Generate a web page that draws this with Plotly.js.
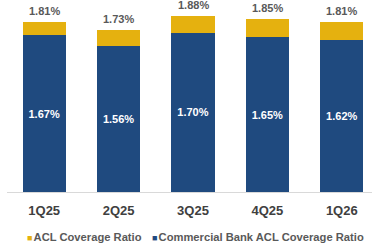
<!DOCTYPE html>
<html><head><meta charset="utf-8">
<script src="https://cdn.plot.ly/plotly-3.0.1.min.js"></script>
<style>html,body{margin:0;padding:0;background:#fff;}#chart{width:372px;height:247px;}</style>
</head><body><div id="chart"></div>
<script>
var quarters = ['1Q25','2Q25','3Q25','4Q25','1Q26'];
var aclTotal = [1.81, 1.73, 1.88, 1.85, 1.81];
var commercialAcl = [1.67, 1.56, 1.70, 1.65, 1.62];
var seriesNames = ['ACL Coverage Ratio', 'Commercial Bank ACL Coverage Ratio'];
var colors = ['#E5B10F', '#1F4A7F'];

var aclExtra = aclTotal.map(function(t,i){ return +(t - commercialAcl[i]).toFixed(2); });
var fnt = 'Liberation Sans, Arial, sans-serif';

var traces = [
  {type:'bar', x:quarters, y:commercialAcl, name:seriesNames[1], marker:{color:colors[1]},
   text:commercialAcl.map(function(v){return v.toFixed(2)+'%';}), textposition:'inside',
   insidetextanchor:'middle', textangle:0,
   textfont:{family:fnt, size:11, color:'#ffffff', weight:'bold'}, hoverinfo:'skip', showlegend:false},
  {type:'bar', x:quarters, y:aclExtra, name:seriesNames[0], marker:{color:colors[0]},
   textposition:'none', hoverinfo:'skip', showlegend:false}
];

var annotations = aclTotal.map(function(t,i){
  return {x:quarters[i], y:t, xref:'x', yref:'y', text:'<b>'+t.toFixed(2)+'%</b>', showarrow:false,
    yanchor:'bottom', yshift:3, font:{family:fnt, size:11, color:'#595959'}};
});
function legendText(i){
  return '<span style="color:'+colors[i]+';font-size:9px">■</span><span style="font-size:4px"> </span><b>'+seriesNames[i]+'</b>';
}
annotations.push({xref:'paper', yref:'paper', x:0.05, y:-0.235, xanchor:'left', yanchor:'middle', showarrow:false,
  text:legendText(0), font:{family:fnt, size:11.2, color:'#595959'}});
annotations.push({xref:'paper', yref:'paper', x:0.392, y:-0.235, xanchor:'left', yanchor:'middle', showarrow:false,
  text:legendText(1), font:{family:fnt, size:11.2, color:'#595959'}});

var layout = {
  width:372, height:247,
  margin:{l:7, r:0, t:0, b:55},
  paper_bgcolor:'#ffffff', plot_bgcolor:'#ffffff',
  barmode:'stack', bargap:0.42,
  showlegend:false,
  xaxis:{type:'category', range:[-0.5, 4.406], showline:true, linecolor:'#D9D9D9', linewidth:1,
    ticks:'', showgrid:false, zeroline:false, ticklabelstandoff:6,
    tickfont:{family:fnt, size:13, color:'#404040', weight:'bold'}},
  yaxis:{range:[0, 2.048], visible:false, showgrid:false, zeroline:false},
  annotations:annotations,
  font:{family:fnt}
};
Plotly.newPlot('chart', traces, layout, {displayModeBar:false, staticPlot:true});
</script></body></html>
